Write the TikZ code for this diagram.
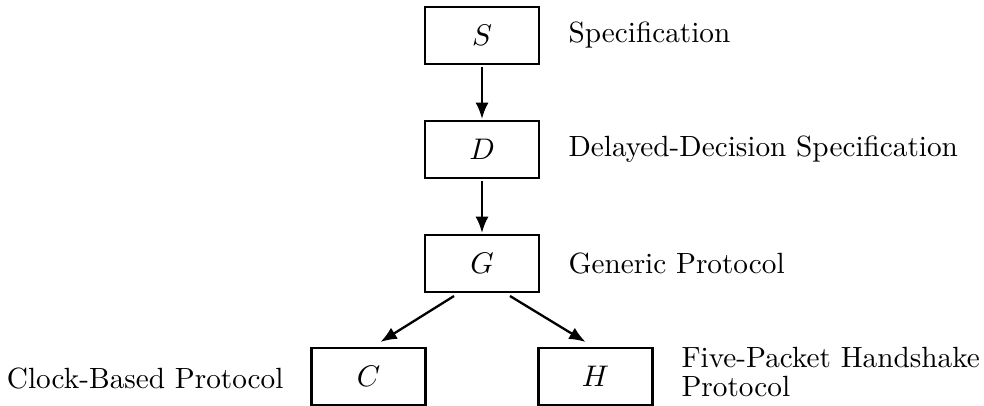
\documentclass[tikz,border=0pt]{standalone}
\usetikzlibrary{arrows.meta,calc}
\begin{document}
\begin{tikzpicture}[x=0.3675pt,y=-0.3675pt,
  font=\fontsize{10.75pt}{13pt}\selectfont,
  box/.style={draw,line width=0.8pt,minimum width=41.9pt,minimum height=20.9pt,inner sep=0pt},
  lbl/.style={inner sep=0pt},
  arr/.style={line width=0.85pt,-{Latex[length=6pt,width=4.8pt]}}]
\useasboundingbox (0,0) rectangle (984,406);
\node[box] (S) at (482,35.5) {$S$};
\node[box] (D) at (482,149.5) {$D$};
\node[box] (G) at (482,263.5) {$G$};
\node[box] (C) at (368.5,376.5) {$C$};
\node[box] (H) at (595.5,376.5) {$H$};
\node[lbl,anchor=west] (ls) at (568,35.5) {Specification};
\node[lbl,anchor=west] (ld) at (568,149.5) {Delayed-Decision Specification};
\node[lbl,anchor=west] (lg) at (568,263.5) {Generic Protocol};
\node[lbl,anchor=east] (lc) at (284,379) {Clock-Based Protocol};
\node[lbl,anchor=base west,align=left,font=\fontsize{10.75pt}{10.7pt}\selectfont] (lh) at (681,397) {Five-Packet Handshake\\[0pt]Protocol};
\draw[arr] ($(S.south)+(0,2)$) -- ($(D.north)+(0,-1)$);
\draw[arr] ($(D.south)+(0,2)$) -- ($(G.north)+(0,-1)$);
\draw[arr] ($(G.south)+(-28,3)$) -- ($(C.north)+(12,-5)$);
\draw[arr] ($(G.south)+(28,3)$) -- ($(H.north)+(-10,-5)$);
\end{tikzpicture}
\end{document}
